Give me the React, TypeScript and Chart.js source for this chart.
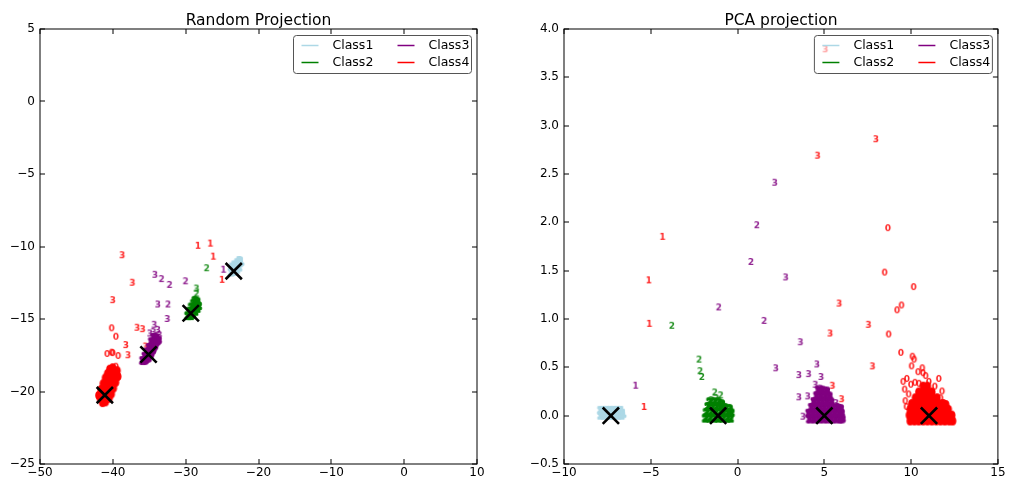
import React, { useEffect, useRef } from "react";
import { Chart, registerables } from "chart.js";
Chart.register(...registerables);

const FONT = '"DejaVu Sans", "Liberation Sans", sans-serif';

const classNames = ["Class1", "Class2", "Class3", "Class4"];
const classColors = ["#add8e6", "#008000", "#800080", "#ff0000"];

// ---------- Random projection (left) ----------
const rpXTicks = [-50, -40, -30, -20, -10, 0, 10];
const rpYTicks = [-25, -20, -15, -10, -5, 0, 5];

// dense cores
const rpClass1Core = [[-23.8,-11.8],[-23.6,-11.7],[-23.4,-11.6],[-23.2,-11.5],[-23.0,-11.4],[-22.8,-11.3],[-22.6,-11.15],[-22.4,-11.05],[-23.3,-11.75],[-23.0,-11.6],[-22.7,-11.45],[-23.6,-11.45],[-23.3,-11.3],[-22.9,-11.15],[-22.6,-11.0]];
const rpClass2Core = [[-29.7,-14.8],[-29.3,-14.8],[-29.5,-14.5],[-29.1,-14.5],[-28.7,-14.5],[-29.2,-14.2],[-28.8,-14.2],[-28.4,-14.3],[-28.9,-13.95],[-28.5,-13.95],[-28.2,-14.1],[-28.7,-13.75],[-28.4,-13.8],[-29.0,-14.7]];
const rpClass3Core = [[-35.9,-17.9],[-35.5,-17.9],[-35.6,-17.6],[-35.2,-17.6],[-34.8,-17.5],[-35.3,-17.3],[-34.9,-17.2],[-34.5,-17.2],[-35.0,-17.0],[-34.6,-16.9],[-34.2,-16.9],[-34.7,-16.6],[-34.3,-16.6],[-33.9,-16.6],[-34.4,-16.3],[-34.0,-16.3],[-33.7,-16.5],[-35.1,-17.75],[-34.7,-17.35],[-34.4,-17.05],[-34.1,-16.7]];
const rpClass4Core = [[-41.7,-20.5],[-41.3,-20.5],[-40.9,-20.5],[-41.4,-20.8],[-41.0,-20.75],[-41.4,-20.1],[-41.0,-20.1],[-40.6,-20.1],[-41.1,-19.7],[-40.7,-19.7],[-40.3,-19.7],[-40.8,-19.3],[-40.4,-19.3],[-40.0,-19.3],[-40.5,-18.95],[-40.1,-18.95],[-39.75,-18.95],[-40.2,-18.6],[-39.85,-18.6],[-39.6,-18.75],[-41.2,-20.3],[-40.8,-19.9],[-40.5,-19.5],[-40.2,-19.1],[-39.9,-18.8],[-41.9,-20.3],[-41.6,-19.9],[-41.3,-19.5],[-41.0,-19.1],[-40.7,-18.8],[-40.4,-18.5],[-40.0,-18.4],[-39.3,-19.0],[-39.6,-19.4],[-39.9,-19.8],[-40.2,-20.2],[-40.5,-20.5],[-39.4,-18.6]];
// scattered digits
const rpClass2Digit2 = [[-28.5,-13.25],[-27.1,-11.5]];
const rpClass2Digit3 = [[-28.5,-12.9]];
const rpClass3Digit3 = [[-34.2,-11.95],[-33.8,-14.0],[-32.5,-15.0],[-34.3,-15.4],[-33.8,-15.75],[-34.9,-16.0],[-34.4,-15.9],[-33.6,-16.1]];
const rpClass3Digit2 = [[-33.3,-12.25],[-32.2,-12.65],[-30.0,-12.4],[-32.4,-14.0]];
const rpClass3Digit1 = [[-24.8,-11.6]];
const rpClass4Digit0 = [[-40.15,-15.64],[-39.56,-16.22],[-40.76,-17.41],[-40.15,-17.32],[-40.0,-17.35],[-39.25,-17.55],[-39.56,-18.29]];
const rpClass4Digit1 = [[-28.3,-9.95],[-26.6,-9.8],[-26.2,-10.7],[-25.0,-12.3]];
const rpClass4Digit3 = [[-38.7,-10.6],[-37.3,-12.5],[-40.0,-13.7],[-36.65,-15.6],[-35.9,-15.7],[-38.2,-16.8],[-37.9,-17.5],[-35.5,-16.9]];
const rpCentroids = [[-23.4,-11.7],[-29.3,-14.6],[-35.1,-17.45],[-41.1,-20.25]];

// ---------- PCA projection (right) ----------
const pcaXTicks = [-10, -5, 0, 5, 10, 15];
const pcaYTicks = [-0.5, 0.0, 0.5, 1.0, 1.5, 2.0, 2.5, 3.0, 3.5, 4.0];

const pcaClass1Core = [[-7.9,0.0],[-7.7,0.0],[-7.5,0.0],[-7.3,0.0],[-7.1,0.0],[-6.9,0.0],[-6.7,0.0],[-7.9,0.05],[-7.7,0.05],[-7.5,0.05],[-7.3,0.05],[-7.1,0.05],[-6.9,0.05],[-6.7,0.05],[-7.8,0.03],[-7.4,0.03],[-7.0,0.03],[-6.6,0.02]];
const pcaClass2Core = [[-1.85,-0.03],[-1.6,-0.03],[-1.35,-0.03],[-1.1,-0.03],[-0.85,-0.03],[-0.6,-0.03],[-0.4,-0.03],[-1.8,0.03],[-1.55,0.03],[-1.3,0.03],[-1.05,0.03],[-0.8,0.03],[-0.55,0.03],[-0.35,0.03],[-1.7,0.09],[-1.45,0.09],[-1.2,0.09],[-0.95,0.09],[-0.7,0.08],[-0.45,0.07],[-1.6,0.14],[-1.35,0.14],[-1.1,0.14],[-0.9,0.12]];
const pcaClass3Core = [[4.15,-0.04],[4.4,-0.04],[4.65,-0.04],[4.9,-0.04],[5.15,-0.04],[5.4,-0.04],[5.65,-0.04],[5.9,-0.04],[6.05,-0.04],[4.1,0.02],[4.35,0.02],[4.6,0.02],[4.85,0.02],[5.1,0.02],[5.35,0.02],[5.6,0.02],[5.85,0.02],[6.0,0.02],[4.25,0.08],[4.5,0.08],[4.75,0.08],[5.0,0.08],[5.25,0.08],[5.5,0.08],[5.75,0.08],[5.95,0.07],[4.4,0.14],[4.65,0.14],[4.9,0.14],[5.15,0.14],[5.4,0.14],[4.55,0.2],[4.8,0.2],[5.05,0.2],[5.3,0.2],[4.65,0.26],[4.9,0.26],[5.15,0.25]];
const pcaClass4Core = [[9.95,-0.06],[10.2,-0.06],[10.45,-0.06],[10.7,-0.06],[10.95,-0.06],[11.2,-0.06],[11.45,-0.06],[11.7,-0.06],[11.95,-0.06],[12.2,-0.06],[12.4,-0.06],[9.9,0.0],[10.15,0.0],[10.4,0.0],[10.65,0.0],[10.9,0.0],[11.15,0.0],[11.4,0.0],[11.65,0.0],[11.9,0.0],[12.15,0.0],[12.35,0.0],[9.95,0.06],[10.2,0.06],[10.45,0.06],[10.7,0.06],[10.95,0.06],[11.2,0.06],[11.45,0.06],[11.7,0.06],[11.95,0.06],[12.15,0.06],[10.05,0.12],[10.3,0.12],[10.55,0.12],[10.8,0.12],[11.05,0.12],[11.3,0.12],[11.55,0.12],[11.8,0.12],[12.0,0.11],[10.25,0.18],[10.5,0.18],[10.75,0.18],[11.0,0.18],[11.25,0.18],[11.5,0.18],[10.45,0.24],[10.7,0.24],[10.95,0.24],[11.2,0.24],[10.7,0.3],[10.95,0.3]];
const pcaClass2Digit2 = [[-1.31,0.24],[-0.97,0.21],[-1.22,0.18],[-1.5,0.16],[-3.78,0.93],[-2.21,0.58],[-2.15,0.46],[-2.05,0.40]];
const pcaClass3Digit3 = [[2.15,2.41],[2.78,1.43],[3.63,0.76],[2.21,0.49],[3.54,0.42],[4.1,0.43],[4.58,0.53],[4.82,0.4],[4.49,0.32],[4.77,0.28],[3.54,0.19],[4.05,0.2],[3.78,-0.01],[5.68,0.13]];
const pcaClass3Digit2 = [[1.12,1.97],[0.78,1.59],[-1.08,1.12],[1.54,0.98]];
const pcaClass3Digit1 = [[-5.87,0.31]];
const pcaClass4Digit0 = [[9.42,0.65],[10.08,0.61],[10.18,0.58],[10.03,0.51],[10.65,0.49],[10.69,0.44],[10.41,0.45],[10.84,0.41],[9.55,0.35],[9.76,0.38],[9.99,0.32],[10.23,0.34],[10.46,0.33],[11.03,0.35],[11.6,0.38],[11.37,0.3],[11.79,0.25],[9.63,0.27],[9.86,0.22],[9.67,0.15],[9.74,0.09],[11.7,0.18],[11.89,0.13],[8.67,1.94],[8.48,1.48],[10.15,1.33],[9.45,1.14],[9.2,1.09],[8.71,0.84]];
const pcaClass4Digit1 = [[-4.32,1.85],[-5.11,1.4],[-5.08,0.95],[-5.38,0.09]];
const pcaClass4Digit3 = [[7.98,2.86],[4.62,2.69],[5.86,1.16],[7.55,0.94],[5.34,0.85],[7.78,0.51],[5.47,0.31],[6.0,0.17],[5.06,3.79]];
const pcaCentroids = [[-7.3,0.0],[-1.12,0.0],[5.0,0.0],[11.03,0.0]];

type Series = { cls: number; digit: string; data: number[][]; dense?: boolean };

const rpSeries: Series[] = [
  { cls: 0, digit: "1", data: rpClass1Core, dense: true },
  { cls: 1, digit: "2", data: rpClass2Core, dense: true },
  { cls: 2, digit: "3", data: rpClass3Core, dense: true },
  { cls: 3, digit: "0", data: rpClass4Core, dense: true },
  { cls: 1, digit: "2", data: rpClass2Digit2 },
  { cls: 1, digit: "3", data: rpClass2Digit3 },
  { cls: 2, digit: "3", data: rpClass3Digit3 },
  { cls: 2, digit: "2", data: rpClass3Digit2 },
  { cls: 2, digit: "1", data: rpClass3Digit1 },
  { cls: 3, digit: "0", data: rpClass4Digit0 },
  { cls: 3, digit: "1", data: rpClass4Digit1 },
  { cls: 3, digit: "3", data: rpClass4Digit3 },
];
const pcaSeries: Series[] = [
  { cls: 0, digit: "1", data: pcaClass1Core, dense: true },
  { cls: 1, digit: "2", data: pcaClass2Core, dense: true },
  { cls: 2, digit: "3", data: pcaClass3Core, dense: true },
  { cls: 3, digit: "0", data: pcaClass4Core, dense: true },
  { cls: 1, digit: "2", data: pcaClass2Digit2 },
  { cls: 2, digit: "3", data: pcaClass3Digit3 },
  { cls: 2, digit: "2", data: pcaClass3Digit2 },
  { cls: 2, digit: "1", data: pcaClass3Digit1 },
  { cls: 3, digit: "0", data: pcaClass4Digit0 },
  { cls: 3, digit: "1", data: pcaClass4Digit1 },
  { cls: 3, digit: "3", data: pcaClass4Digit3 },
];

function glyph(ch: string, color: string, dense: boolean) {
  const c = document.createElement("canvas");
  c.width = 10;
  c.height = 12;
  const g = c.getContext("2d")!;
  g.globalAlpha = dense ? 1 : 0.85;
  g.font = `bold 9px ${FONT}`;
  g.fillStyle = color;
  g.strokeStyle = color;
  g.textAlign = "center";
  g.textBaseline = "middle";
  if (dense) {
    g.lineWidth = 2;
    g.lineJoin = "round";
    g.strokeText(ch, 5, 6.5);
  }
  g.fillText(ch, 5, 6.5);
  return c;
}

const fmt = (d: number) => (v: number) =>
  (v < 0 ? "\u2212" : "") + Math.abs(v).toFixed(d);

const framePlugin = (title: string) => ({
  id: "frame",
  afterDraw(chart: any) {
    const ctx = chart.ctx;
    const a = chart.chartArea;
    const xs = chart.scales.x;
    const ys = chart.scales.y;
    ctx.save();
    ctx.strokeStyle = "#000";
    ctx.lineWidth = 1;
    ctx.strokeRect(a.left, a.top, a.right - a.left, a.bottom - a.top);
    const tl = 5;
    ctx.beginPath();
    xs.ticks.forEach((t: any) => {
      const px = Math.round(xs.getPixelForValue(t.value));
      ctx.moveTo(px, a.bottom);
      ctx.lineTo(px, a.bottom - tl);
      ctx.moveTo(px, a.top);
      ctx.lineTo(px, a.top + tl);
    });
    ys.ticks.forEach((t: any) => {
      const py = Math.round(ys.getPixelForValue(t.value));
      ctx.moveTo(a.left, py);
      ctx.lineTo(a.left + tl, py);
      ctx.moveTo(a.right, py);
      ctx.lineTo(a.right - tl, py);
    });
    ctx.stroke();
    // legend
    const W = 178, H = 38;
    const x0 = a.right - 5.5 - W;
    const y0 = a.top + 6.5;
    ctx.beginPath();
    if ((ctx as any).roundRect) (ctx as any).roundRect(x0, y0, W, H, 3);
    else ctx.rect(x0, y0, W, H);
    ctx.fillStyle = "rgba(255,255,255,0.55)";
    ctx.fill();
    ctx.strokeStyle = "#555";
    ctx.lineWidth = 1;
    ctx.stroke();
    ctx.font = `12.5px ${FONT}`;
    ctx.textBaseline = "middle";
    ctx.textAlign = "left";
    classNames.forEach((name, i) => {
      const col = Math.floor(i / 2);
      const row = i % 2;
      const lx = x0 + 8 + col * 96;
      const ly = y0 + 10 + row * 17;
      ctx.strokeStyle = classColors[i];
      ctx.lineWidth = 1.5;
      ctx.beginPath();
      ctx.moveTo(lx, ly);
      ctx.lineTo(lx + 17, ly);
      ctx.stroke();
      ctx.fillStyle = "#000";
      ctx.fillText(name, lx + 31, ly + 0.5);
    });
    // title
    ctx.font = `15.5px ${FONT}`;
    ctx.textAlign = "center";
    ctx.textBaseline = "alphabetic";
    ctx.fillStyle = "#000";
    ctx.fillText(title, (a.left + a.right) / 2, 24.5);
    ctx.restore();
  },
});

function makeConfig(
  series: Series[],
  centroids: number[][],
  xTicks: number[],
  yTicks: number[],
  xDec: number,
  yDec: number,
  yAxisWidth: number,
  padRight: number,
  title: string
): any {
  const datasets: any[] = series.map((s) => ({
    label: classNames[s.cls] + " " + s.digit,
    data: s.data.map(([x, y]) => ({ x, y })),
    pointStyle: glyph(s.digit, classColors[s.cls], !!s.dense),
    pointRadius: 4,
    pointHoverRadius: 4,
    order: 1,
  }));
  datasets.push({
    label: "centroids",
    data: centroids.map(([x, y]) => ({ x, y })),
    pointStyle: "crossRot",
    pointRadius: 11.5,
    pointHoverRadius: 11.5,
    borderColor: "#000",
    backgroundColor: "#000",
    pointBorderWidth: 2.6,
    borderWidth: 2.6,
    order: 0,
  });
  const tickFont = { family: FONT, size: 12 };
  return {
    type: "scatter",
    data: { datasets },
    options: {
      responsive: false,
      animation: false,
      events: [],
      layout: { padding: { left: 0, top: 29, right: padRight, bottom: 0 } },
      plugins: {
        legend: { display: false },
        tooltip: { enabled: false },
        title: { display: false },
      },
      scales: {
        x: {
          type: "linear",
          min: xTicks[0],
          max: xTicks[xTicks.length - 1],
          afterBuildTicks: (s: any) => {
            s.ticks = xTicks.map((v) => ({ value: v }));
          },
          afterFit: (s: any) => {
            s.height = 20;
          },
          grid: { display: false, drawTicks: false },
          border: { display: false },
          ticks: {
            autoSkip: false,
            maxRotation: 0,
            minRotation: 0,
            padding: 2,
            color: "#000",
            font: tickFont,
            callback: (v: number) => fmt(xDec)(v),
          },
        },
        y: {
          type: "linear",
          min: yTicks[0],
          max: yTicks[yTicks.length - 1],
          afterBuildTicks: (s: any) => {
            s.ticks = yTicks.map((v) => ({ value: v }));
          },
          afterFit: (s: any) => {
            s.width = yAxisWidth;
          },
          grid: { display: false, drawTicks: false },
          border: { display: false },
          ticks: {
            autoSkip: false,
            padding: 5,
            color: "#000",
            font: tickFont,
            callback: (v: number) => fmt(yDec)(v),
          },
        },
      },
    },
    plugins: [framePlugin(title)],
  };
}

export default function App() {
  const leftRef = useRef<HTMLCanvasElement>(null);
  const rightRef = useRef<HTMLCanvasElement>(null);

  useEffect(() => {
    document.body.style.margin = "0";
    document.body.style.background = "#fff";
    const left = new Chart(
      leftRef.current!,
      makeConfig(rpSeries, rpCentroids, rpXTicks, rpYTicks, 0, 0, 40, 29, "Random Projection")
    );
    const right = new Chart(
      rightRef.current!,
      makeConfig(pcaSeries, pcaCentroids, pcaXTicks, pcaYTicks, 0, 1, 58, 9, "PCA projection")
    );
    return () => {
      left.destroy();
      right.destroy();
    };
  }, []);

  return (
    <div style={{ position: "fixed", left: 0, top: 0, width: 1012, height: 484, background: "#fff" }}>
      <canvas ref={leftRef} width={506} height={484} style={{ position: "absolute", left: 0, top: 0 }} />
      <canvas ref={rightRef} width={506} height={484} style={{ position: "absolute", left: 506, top: 0 }} />
    </div>
  );
}
